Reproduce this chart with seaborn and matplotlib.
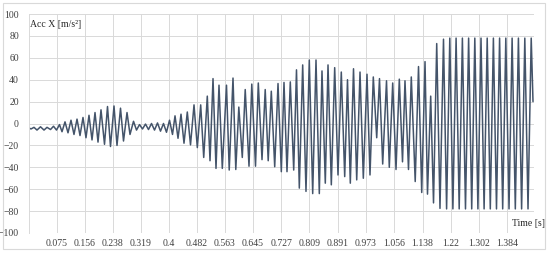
import numpy as np
import pandas as pd
import seaborn as sns
import matplotlib
matplotlib.use("Agg")
import matplotlib.pyplot as plt
from matplotlib.patches import Rectangle

# ---- data (extrema of the signal) ----
time_s = [
    -0.0060, 0.0003, 0.0090, 0.0177, 0.0279, 0.0381, 0.0468, 0.0570, 0.0657, 0.0744,
    0.0831, 0.0904, 0.0991, 0.1078, 0.1165, 0.1252, 0.1340, 0.1427, 0.1514, 0.1601,
    0.1688, 0.1776, 0.1863, 0.1950, 0.2037, 0.2139, 0.2226, 0.2313, 0.2415, 0.2502,
    0.2604, 0.2691, 0.2793, 0.2880, 0.2982, 0.3069, 0.3156, 0.3243, 0.3330, 0.3417,
    0.3505, 0.3592, 0.3679, 0.3766, 0.3853, 0.3940, 0.4028, 0.4115, 0.4188, 0.4275,
    0.4362, 0.4449, 0.4545, 0.4638, 0.4740, 0.4836, 0.4934, 0.5022, 0.5126, 0.5205,
    0.5292, 0.5379, 0.5466, 0.5562, 0.5684, 0.5763, 0.5873, 0.5954, 0.6042, 0.6143,
    0.6228, 0.6338, 0.6419, 0.6527, 0.6608, 0.6716, 0.6809, 0.6896, 0.6986, 0.7085,
    0.7181, 0.7277, 0.7355, 0.7442, 0.7538, 0.7637, 0.7718, 0.7800, 0.7898, 0.7994,
    0.8090, 0.8189, 0.8285, 0.8381, 0.8459, 0.8555, 0.8634, 0.8730, 0.8828, 0.8924,
    0.9020, 0.9119, 0.9200, 0.9282, 0.9375, 0.9468, 0.9564, 0.9660, 0.9767, 0.9854,
    0.9950, 1.0049, 1.0130, 1.0223, 1.0334, 1.0415, 1.0514, 1.0610, 1.0706, 1.0799,
    1.0871, 1.0973, 1.1054, 1.1168, 1.1264, 1.1357, 1.1453, 1.1525, 1.1618, 1.1700,
    1.1793, 1.1888, 1.1990, 1.2080, 1.2173, 1.2263, 1.2356, 1.2446, 1.2539, 1.2629,
    1.2720, 1.2810, 1.2900, 1.2990, 1.3080, 1.3170, 1.3260, 1.3350, 1.3440, 1.3530,
    1.3620, 1.3710, 1.3801, 1.3894, 1.3984, 1.4077, 1.4167, 1.4260, 1.4353, 1.4446,
    1.4539, 1.4591,
]
acc_x = [
    -4, -5, -3.5, -6, -3, -6, -3.5, -5.5, -2.5, -6,
    -1, -7.5, 1.5, -8.5, 3, -10, 4, -11, 5.5, -13,
    7.5, -15, 10, -17, 12.5, -19, 15.5, -21, 16, -20,
    14, -16, 10, -10, 2, -6, -1, -5, -0.5, -5.5,
    0, -6, 0.5, -7, 0, -8, 3, -10, 7, -13.5,
    8.5, -18, 10.5, -19.5, 17, -22, 17, -31, 25, -34,
    41, -41, 35, -41, 35, -42.5, 41.5, -42, 15, -31,
    31, -39, 36, -39, 37, -33, 31, -34, 29.5, -39.5,
    36.5, -44, 37.5, -44, 38, -42.5, 49, -59, 53.5, -62,
    58, -64, 58, -64, 48, -54.5, 53.5, -56, 51, -47,
    47, -48.5, 40, -54.5, 50, -51.5, 47, -50, 45, -47,
    42.5, -13, 41, -37, 39, -40, 37, -42, 40.5, -35,
    39, -42, 42.5, -53, 52, -63, 56.5, -64.5, 25, -72.5,
    73, -77.5, 77, -78, 78, -78, 78, -78, 78, -78,
    78, -78, 78, -78, 78, -78, 78, -78, 78, -78,
    78, -78, 78, -78, 78, -78, 78, -78, 78, -78,
    78, 20,
]
x_tick_values = [0.075, 0.156, 0.238, 0.319, 0.4, 0.482, 0.563, 0.645, 0.727,
                 0.809, 0.891, 0.973, 1.056, 1.138, 1.22, 1.302, 1.384]
x_tick_labels = ["0.075", "0.156", "0.238", "0.319", "0.4", "0.482", "0.563",
                 "0.645", "0.727", "0.809", "0.891", "0.973", "1.056", "1.138",
                 "1.22", "1.302", "1.384"]
y_tick_values = [-100, -80, -60, -40, -20, 0, 20, 40, 60, 80, 100]

df = pd.DataFrame({"Time [s]": time_s, "Acc X": acc_x})

# ---- styling ----
sns.set_theme(style="white")
plt.rcParams["font.family"] = ["Liberation Serif", "DejaVu Serif"]

W, H = 550, 254
fig = plt.figure(figsize=(W / 100, H / 100), dpi=100)
fig.patch.set_facecolor("white")

left_px, right_px, top_px, bottom_px = 28.7, 534.0, 14.0, 233.0
ax = fig.add_axes([left_px / W, 1 - bottom_px / H,
                   (right_px - left_px) / W, (bottom_px - top_px) / H])
ax.set_facecolor("white")

grid_c = "#D9D9D9"
line_c = "#44546A"

sns.lineplot(data=df, x="Time [s]", y="Acc X", ax=ax, color=line_c,
             linewidth=1.1, estimator=None, sort=False)

ax.set_xlim(-0.0064, 1.462)
ax.set_ylim(-100, 100)
ax.set_xticks(x_tick_values)
ax.set_xticklabels(x_tick_labels)
ax.set_yticks(y_tick_values)
ax.grid(True, color=grid_c, linewidth=0.7)
ax.set_axisbelow(True)
ax.tick_params(axis="both", length=0, labelsize=7, colors="#404040")
ax.tick_params(axis="x", pad=4.5)
ax.tick_params(axis="y", pad=7)
for s in ["top", "right", "bottom"]:
    ax.spines[s].set_visible(False)
ax.spines["left"].set_color(grid_c)
ax.spines["left"].set_linewidth(0.7)
ax.set_xlabel("")
ax.set_ylabel("")

ax.text(0.003, 0.953, "Acc X [m/s\u00b2]", transform=ax.transAxes,
        fontsize=7, color="#262626", ha="left", va="center")
fig.text(528 / W, 1 - 223 / H, "Time [s]", fontsize=7, color="#262626",
         ha="center", va="center")

# chart-area border
fig.patches.append(Rectangle((3 / W, 1 - 249 / H), 542 / W, 246 / H,
                             transform=fig.transFigure, fill=False,
                             edgecolor="#D9D9D9", linewidth=0.8))

fig.savefig("out.png", dpi=100, facecolor="white")
